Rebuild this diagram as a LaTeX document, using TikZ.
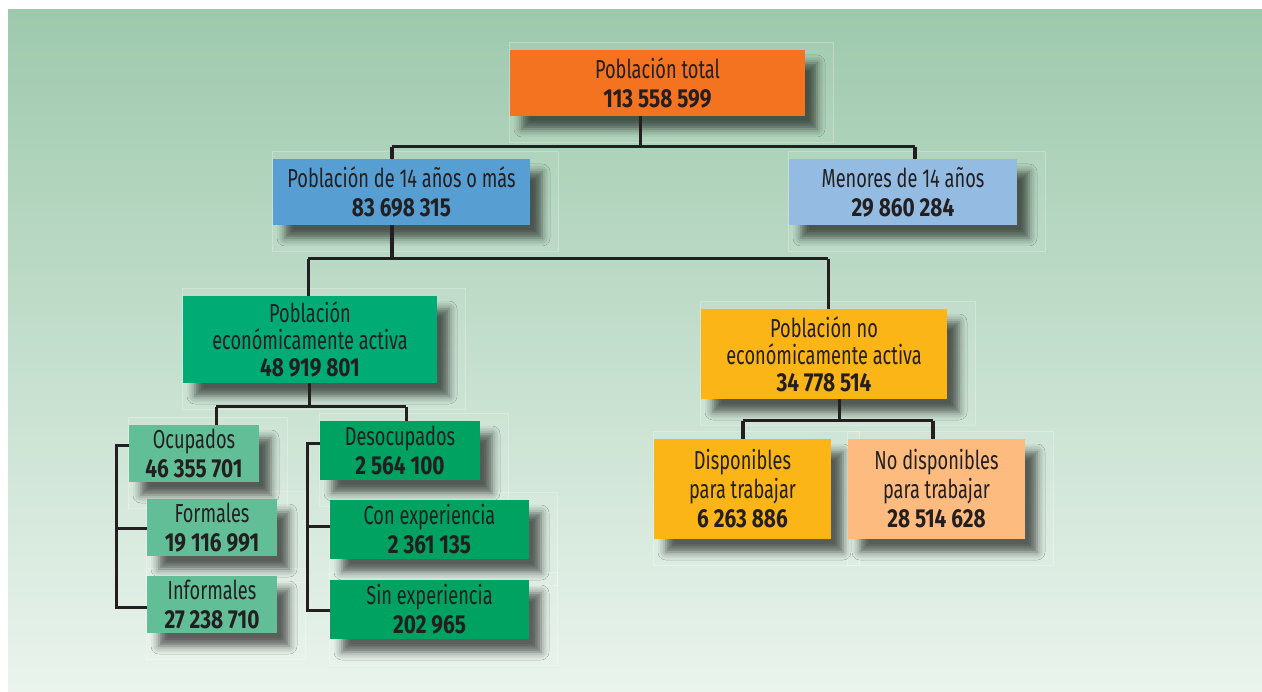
\documentclass[tikz,border=0pt]{standalone}
\usepackage{fontspec}
\setmainfont{Fira Sans}[FakeStretch=0.70, BoldFeatures={FakeStretch=0.80}]
\usetikzlibrary{shadows.blur,backgrounds}

\definecolor{ink}{HTML}{231F20}
\definecolor{bgtop}{HTML}{9EC9AD}
\definecolor{bgbot}{HTML}{EAF4ED}
\definecolor{corange}{HTML}{F37321}
\definecolor{cblue}{HTML}{579FD3}
\definecolor{clblue}{HTML}{94BCE2}
\definecolor{cgreen}{HTML}{00AC74}
\definecolor{cmint}{HTML}{62BE96}
\definecolor{cdgreen}{HTML}{00A262}
\definecolor{camber}{HTML}{FBB516}
\definecolor{cpeach}{HTML}{FDBB80}

\tikzset{
  box/.style={rectangle, inner sep=0pt, align=center, text=ink,
    font=\fontsize{26}{29}\selectfont,
    blur shadow={shadow xshift=12pt, shadow yshift=-13pt,
      shadow blur radius=8pt, shadow opacity=60}},
  tight/.style={font=\fontsize{26}{27}\selectfont},
  conn/.style={draw=ink, line width=3pt},
  stub/.style={draw=ink, line width=4.5pt},
  halo/.style={draw=white, draw opacity=0.28, fill=white, fill opacity=0.05, line width=0.8pt}
}

\begin{document}
\begin{tikzpicture}[x=1pt, y=-1pt]
\useasboundingbox (0,0) rectangle (1262,692);

% level 0
\node[box, fill=corange, minimum width=295pt, minimum height=66pt] (tot) at (657.5,83)
  {Población total\\\textbf{113 558 599}};
% level 1
\node[box, fill=cblue, minimum width=257pt, minimum height=66pt] (may) at (401.5,192)
  {Población de 14 años o más\\\textbf{83 698 315}};
\node[box, fill=clblue, minimum width=228pt, minimum height=66pt] (men) at (903,192)
  {Menores de 14 años\\\textbf{29 860 284}};
% level 2
\node[box, tight, fill=cgreen, minimum width=254pt, minimum height=87pt] (pea) at (310,339.5)
  {Población\\económicamente activa\\\textbf{48 919 801}};
\node[box, tight, fill=camber, minimum width=246pt, minimum height=90pt] (pnea) at (824,354)
  {Población no\\económicamente activa\\\textbf{34 778 514}};
% employed branch
\node[box, fill=cmint, minimum width=130pt, minimum height=57pt] (ocu) at (194,453.5)
  {Ocupados\\\textbf{46 355 701}};
\node[box, fill=cmint, minimum width=130pt, minimum height=57pt] (form) at (212,527.5)
  {Formales\\\textbf{19 116 991}};
\node[box, fill=cmint, minimum width=130pt, minimum height=57pt] (inf) at (212,604.5)
  {Informales\\\textbf{27 238 710}};
% unemployed branch
\node[box, fill=cdgreen, minimum width=160pt, minimum height=59pt] (des) at (400,450.5)
  {Desocupados\\\textbf{2 564 100}};
\node[box, fill=cdgreen, minimum width=199pt, minimum height=59pt] (con) at (429.5,529.5)
  {Con experiencia\\\textbf{2 361 135}};
\node[box, fill=cdgreen, minimum width=199pt, minimum height=59pt] (sin) at (429.5,609.5)
  {Sin experiencia\\\textbf{202 965}};
% inactive branch
\node[box, fill=camber, minimum width=177pt, minimum height=100pt] (disp) at (742.5,489)
  {Disponibles\\para trabajar\\\textbf{6 263 886}};
\node[box, fill=cpeach, minimum width=177pt, minimum height=100pt] (nodisp) at (936.5,489)
  {No disponibles\\para trabajar\\\textbf{28 514 628}};

% junction points
\coordinate (j0) at (640,147);
\coordinate (a1) at (392,147);
\coordinate (a2) at (915,147);
\coordinate (j1) at (392,259);
\coordinate (b1) at (308,259);
\coordinate (b2) at (828,259);
\coordinate (j2) at (309,407);
\coordinate (c1) at (216,407);
\coordinate (c2) at (406,407);
\coordinate (k1) at (116,446);
\coordinate (k2) at (116,529);
\coordinate (k3) at (116,607);
\coordinate (m1) at (307,444);
\coordinate (m2) at (307,527);
\coordinate (m3) at (307,610);
\coordinate (j3) at (839,421);
\coordinate (d1) at (743,421);
\coordinate (d2) at (933,421);

% connectors
\draw[conn] (j0 |- tot.south) -- (j0);
\draw[conn] (a1) -- (a2);
\draw[stub] (a1) -- (a1 |- may.north);
\draw[stub] (a2) -- (a2 |- men.north);
\draw[stub] (j1 |- may.south) -- (j1);
\draw[conn] (b1) -- (b2);
\draw[conn] (b1) -- (b1 |- pea.north);
\draw[conn] (b2) -- (b2 |- pnea.north);
\draw[conn] (j2 |- pea.south) -- (j2);
\draw[conn] (c1) -- (c2);
\draw[conn] (c1) -- (c1 |- ocu.north);
\draw[conn] (c2) -- (c2 |- des.north);
\draw[conn, line join=miter] (ocu.west |- k1) -- (k1) -- (k3) -- (inf.west |- k3);
\draw[conn] (k2) -- (form.west |- k2);
\draw[conn, line join=miter] (des.west |- m1) -- (m1) -- (m3) -- (sin.west |- m3);
\draw[conn] (m2) -- (con.west |- m2);
\draw[conn] (j3 |- pnea.south) -- (j3);
\draw[conn] (d1) -- (d2);
\draw[stub] (d1) -- (d1 |- disp.north);
\draw[stub] (d2) -- (d2 |- nodisp.north);

% backdrop and soft frames behind the boxes
\begin{scope}[on background layer]
  \shade[top color=bgtop, bottom color=bgbot] (8,10) rectangle (1262,692);
  \foreach \n in {tot,may,men,pea,pnea,ocu,form,inf,des,con,sin,disp,nodisp}{
    \draw[halo] ([yshift=7pt]\n.north west) rectangle ([xshift=28pt,yshift=-26pt]\n.south east);
  }
\end{scope}
\end{tikzpicture}
\end{document}
